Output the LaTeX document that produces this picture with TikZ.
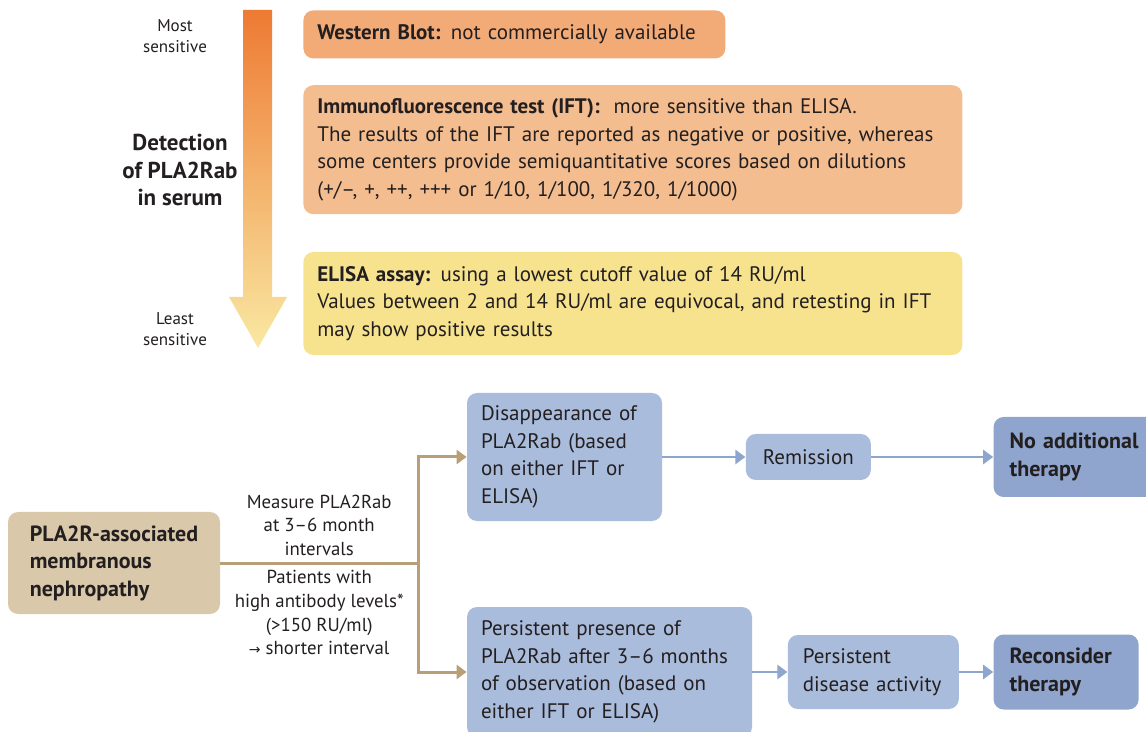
\documentclass[tikz,border=0pt]{standalone}
\usepackage{fontspec}
\setmainfont{PT Sans}
\newfontfamily\symfont{DejaVu Sans}
\usetikzlibrary{arrows.meta,positioning}
\definecolor{Ink}{HTML}{231F20}
\definecolor{DeepOrange}{HTML}{EE7A33}
\definecolor{MidOrange}{HTML}{F4A966}
\definecolor{PaleYellow}{HTML}{F9E8A2}
\definecolor{Peach}{HTML}{F2AA77}
\definecolor{SoftPeach}{HTML}{F4BD8F}
\definecolor{Lemon}{HTML}{F7E38E}
\definecolor{Tan}{HTML}{D9C9AA}
\definecolor{TanLine}{HTML}{B99F78}
\definecolor{SoftBlue}{HTML}{AABCDB}
\definecolor{MidBlue}{HTML}{8FA5CD}
\definecolor{BlueLine}{HTML}{8DA6CE}

\begin{document}
\begin{tikzpicture}[x=0.5pt,y=-0.5pt,
  font=\fontsize{10.5}{13.8}\selectfont,text=Ink,
  test/.style={rounded corners=5pt,align=left,inner xsep=7pt,inner ysep=0pt},
  stepbox/.style={rounded corners=5pt,fill=SoftBlue,align=left,inner xsep=7pt,inner ysep=0pt},
  endbox/.style={rounded corners=5pt,fill=MidBlue,align=left,inner xsep=8pt,inner ysep=0pt,font=\fontsize{11}{13.8}\selectfont\bfseries},
  lbl/.style={align=center,text=Ink,font=\fontsize{9.4}{11.8}\selectfont,inner sep=2pt},
  tanarrow/.style={-{Triangle[length=5pt,width=7pt]},line width=1.5pt,draw=TanLine},
  bluearrow/.style={-{Triangle[length=5pt,width=7pt]},line width=1.3pt,draw=BlueLine}
]
\useasboundingbox (0,0) rectangle (1146,732);

% sensitivity arrow
\shade[top color=DeepOrange,middle color=MidOrange,bottom color=PaleYellow]
  (243,10) -- (272,10) -- (272,297) -- (287,297) -- (258,348) -- (229,297) -- (243,297) -- cycle;
\node[lbl,font=\fontsize{8.5}{10.5}\selectfont] (most) at (175,36) {Most\\sensitive};
\node[align=center,font=\fontsize{11.5}{13.6}\selectfont\bfseries] (detect) at (180,170) {Detection\\of PLA2Rab\\in serum};
\node[lbl,font=\fontsize{8.5}{10.5}\selectfont] (least) at (175,329) {Least\\sensitive};

% tests
\node[test,fill=Peach,text width=197pt,minimum height=24pt,anchor=north west] (wb) at (303,10)
  {\textbf{Western Blot:} not commercially available};
\node[test,fill=SoftPeach,text width=315.5pt,minimum height=64.5pt,below=13pt of wb.south west,anchor=north west] (ift)
  {\textbf{Immunofluorescence test (IFT):}\ \ more sensitive than ELISA.\\
   The results of the IFT are reported as negative or positive, whereas\\
   some centers provide semiquantitative scores based on dilutions\\
   (+/–, +, ++, +++ or 1/10, 1/100, 1/320, 1/1000)};
\node[test,fill=Lemon,text width=315.5pt,minimum height=51.5pt,below=18.5pt of ift] (elisa)
  {\textbf{ELISA assay:} using a lowest cutoff value of 14 RU/ml\\
   Values between 2 and 14 RU/ml are equivocal, and retesting in IFT\\
   may show positive results};

% follow-up
\node[test,fill=Tan,minimum width=106pt,minimum height=51pt,inner xsep=7.5pt,
  font=\fontsize{11}{13.8}\selectfont\bfseries] (mn) at (114,563)
  {PLA2R-associated\\membranous\\nephropathy};
\coordinate (jn) at (418,563);
\node[stepbox,text width=83.5pt,minimum height=64pt] (dis) at (564.5,457)
  {Disappearance of\\PLA2Rab (based\\on either IFT or\\ELISA)};
\node[stepbox,text width=128.5pt,minimum height=65pt] (pers) at (609.5,672)
  {Persistent presence of\\PLA2Rab after 3–6 months\\of observation (based on\\either IFT or ELISA)};
\node[stepbox,align=center,text width=48.5pt,minimum height=23pt,right=41.5pt of dis] (rem) {Remission};
\node[endbox,text width=69pt,minimum height=40pt,right=61pt of rem] (noadd) {No additional\\therapy};
\node[stepbox,inner xsep=7.5pt,text width=70.5pt,minimum height=37pt,right=17.5pt of pers] (pda) {Persistent\\disease activity};
\node[endbox,text width=56.5pt,minimum height=37.5pt,right=17pt of pda] (recon) {Reconsider\\therapy};

\draw[TanLine,line width=1.5pt] (mn) --
  node[lbl,above=1pt] {Measure PLA2Rab\\at 3–6 month\\intervals}
  node[lbl,below=1pt] {Patients with\\high antibody levels*\\(>150 RU/ml)\\{\symfont\fontsize{7}{11.8}\selectfont →} shorter interval} (jn);
\draw[tanarrow] (jn) |- (dis);
\draw[tanarrow] (jn) |- (pers);
\draw[bluearrow] (dis) -- (rem);
\draw[bluearrow] (rem) -- (noadd);
\draw[bluearrow] (pers) -- (pda);
\draw[bluearrow] (pda) -- (recon);
\end{tikzpicture}
\end{document}
